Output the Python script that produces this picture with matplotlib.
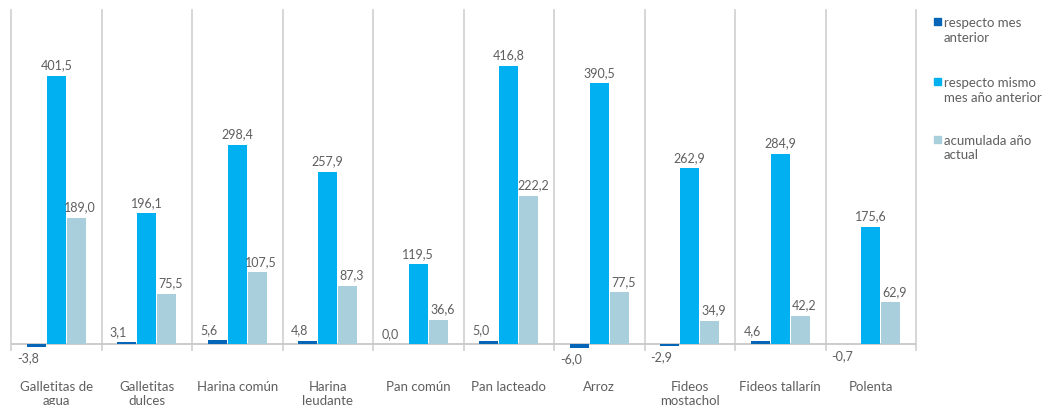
import matplotlib
matplotlib.use("Agg")
import matplotlib.pyplot as plt
from matplotlib.patches import Rectangle

categories = ["Galletitas de\nagua", "Galletitas\ndulces", "Harina común", "Harina\nleudante",
              "Pan común", "Pan lacteado", "Arroz", "Fideos\nmostachol", "Fideos tallarín", "Polenta"]
mes_anterior = [-3.8, 3.1, 5.6, 4.8, 0.0, 5.0, -6.0, -2.9, 4.6, -0.7]
mismo_mes = [401.5, 196.1, 298.4, 257.9, 119.5, 416.8, 390.5, 262.9, 284.9, 175.6]
acumulada = [189.0, 75.5, 107.5, 87.3, 36.6, 222.2, 77.5, 34.9, 42.2, 62.9]
series_names = ["respecto mes\nanterior", "respecto mismo\nmes año anterior", "acumulada año\nactual"]
colors = ["#0566b8", "#00b0f0", "#a9cfdd"]

plt.rcParams['font.family'] = ['Lato', 'DejaVu Sans']
W, H = 1044, 405
fig = plt.figure(figsize=(W / 100, H / 100), dpi=100)
ax = fig.add_axes([11 / W, (H - 350) / H, (916 - 11) / W, 340 / H])
ax.set_xlim(-0.5, len(categories) - 0.5)
ax.set_ylim(-9, 500)
ax.axis('off')

txt_col = "#5f5f5f"
bw = 0.22
series = [mes_anterior, mismo_mes, acumulada]
offsets = [-bw, 0, bw]
lab_dx = [-6, 0, 3]

for s, (vals, off, col) in enumerate(zip(series, offsets, colors)):
    xs = [i + off for i in range(len(vals))]
    ax.bar(xs, vals, width=bw * 0.95, color=col, edgecolor='none', zorder=3)
    for x, v in zip(xs, vals):
        lab = f"{v:.1f}".replace('.', ',')
        if v < 0:
            ax.annotate(lab, (x, v), xytext=(lab_dx[s], -4), textcoords='offset points',
                        ha='center', va='top', fontsize=9, color=txt_col)
        else:
            ax.annotate(lab, (x, v), xytext=(lab_dx[s], 3), textcoords='offset points',
                        ha='center', va='bottom', fontsize=9, color=txt_col)

# separators
for b in range(len(categories) + 1):
    ax.plot([b - 0.5, b - 0.5], [-9, 500], color='#d3d3d3', lw=1.3, zorder=1, clip_on=False)
ax.axhline(0, color='#c8c8c8', lw=1.3, zorder=2)

for i, c in enumerate(categories):
    ax.annotate(c, (i, 0), xytext=(0, -26.5), textcoords='offset points', ha='center',
                va='top', fontsize=9.5, color=txt_col, linespacing=1.25)

# legend
leg_y = [22, 82, 140]
for name, col, y in zip(series_names, colors, leg_y):
    fig.patches.append(Rectangle((934 / W, 1 - (y + 3) / H), 7 / W, 7 / H,
                                 transform=fig.transFigure, color=col, figure=fig))
    fig.text(944 / W, 1 - (y - 5) / H, name, ha='left', va='top', fontsize=9.5,
             color=txt_col, linespacing=1.25)

fig.savefig("out.png", dpi=100, facecolor='white')
